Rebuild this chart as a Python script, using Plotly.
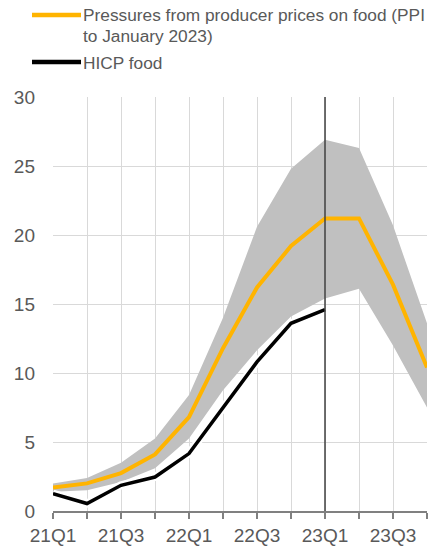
import plotly.graph_objects as go

quarters = ["21Q1", "21Q2", "21Q3", "21Q4", "22Q1", "22Q2", "22Q3", "22Q4",
            "23Q1", "23Q2", "23Q3", "23Q4"]
tick_labels = ["21Q1", "", "21Q3", "", "22Q1", "", "22Q3", "", "23Q1", "", "23Q3", ""]
ppi_pressures = [1.7, 2.0, 2.75, 4.1, 6.8, 11.8, 16.2, 19.2, 21.2, 21.2, 16.4, 10.4]
band_upper = [2.0, 2.4, 3.5, 5.25, 8.4, 14.0, 20.6, 24.8, 26.9, 26.3, 20.7, 13.6]
band_lower = [1.4, 1.5, 2.1, 3.1, 5.25, 8.75, 11.65, 14.1, 15.4, 16.1, 12.0, 7.5]
hicp_food = [1.26, 0.54, 1.86, 2.46, 4.16, 7.5, 10.8, 13.6, 14.6, None, None, None]
cutoff_quarter = "23Q1"

ORANGE = "#FFB400"
GREY_BAND = "#C0C0C0"
TEXT = "#595959"
FONT = "Liberation Sans, Arial, sans-serif"

PW, PH = 374, 414  # plot area size in px

fig = go.Figure()
fig.add_trace(go.Scatter(x=quarters, y=band_lower, mode="lines",
                         line=dict(width=0, color=GREY_BAND), showlegend=False,
                         hoverinfo="skip"))
fig.add_trace(go.Scatter(x=quarters, y=band_upper, mode="lines", fill="tonexty",
                         fillcolor=GREY_BAND, line=dict(width=0, color=GREY_BAND),
                         showlegend=False, hoverinfo="skip"))
fig.add_trace(go.Scatter(x=quarters, y=hicp_food, mode="lines",
                         line=dict(width=8, color="white"), showlegend=False,
                         hoverinfo="skip"))
fig.add_trace(go.Scatter(x=quarters, y=hicp_food, mode="lines",
                         line=dict(width=3.5, color="black"), name="HICP food",
                         showlegend=False))
fig.add_trace(go.Scatter(x=quarters, y=ppi_pressures, mode="lines",
                         line=dict(width=4, color=ORANGE),
                         name="Pressures from producer prices on food (PPI to January 2023)",
                         showlegend=False))

fig.add_shape(type="line", xref="x", yref="paper", x0=cutoff_quarter, x1=cutoff_quarter,
              y0=0, y1=1, line=dict(color="#404040", width=1.5), layer="above")

# legend (positions relative to the plot area's top-left corner, in px)
for color, ypix in [(ORANGE, -82), ("black", -35)]:
    fig.add_shape(type="line", xref="paper", yref="paper", x0=-21 / PW, x1=28 / PW,
                  y0=1 - ypix / PH, y1=1 - ypix / PH,
                  line=dict(color=color, width=4.5))
for txt, ypix in [("Pressures from producer prices on food (PPI", -82),
                  ("to January 2023)", -61), ("HICP food", -34)]:
    fig.add_annotation(xref="paper", yref="paper", x=29 / PW, y=1 - ypix / PH,
                       text=txt, showarrow=False, xanchor="left", yanchor="middle",
                       borderpad=0,
                       font=dict(family=FONT, size=17.3, color=TEXT))

fig.update_xaxes(type="category", categoryorder="array", categoryarray=quarters,
                 range=[0, 11], tickmode="array", tickvals=quarters, ticktext=tick_labels,
                 showgrid=True, gridcolor="#D9D9D9", gridwidth=1,
                 showline=True, linecolor="#808080", linewidth=1.5,
                 ticks="outside", ticklen=6, tickcolor="#808080", tickwidth=1.5,
                 tickfont=dict(family=FONT, size=19, color=TEXT), zeroline=False,
                 automargin=False)
fig.update_yaxes(range=[0, 30], dtick=5, showgrid=True, gridcolor="#D9D9D9", gridwidth=1,
                 zeroline=False, showline=False, ticks="", ticklabelstandoff=17,
                 tickfont=dict(family=FONT, size=19, color=TEXT), automargin=False)

fig.update_layout(width=440, height=540, margin=dict(l=45, r=21, t=89, b=37),
                  plot_bgcolor="white", paper_bgcolor="white", showlegend=False)

fig.write_html("out.html")
